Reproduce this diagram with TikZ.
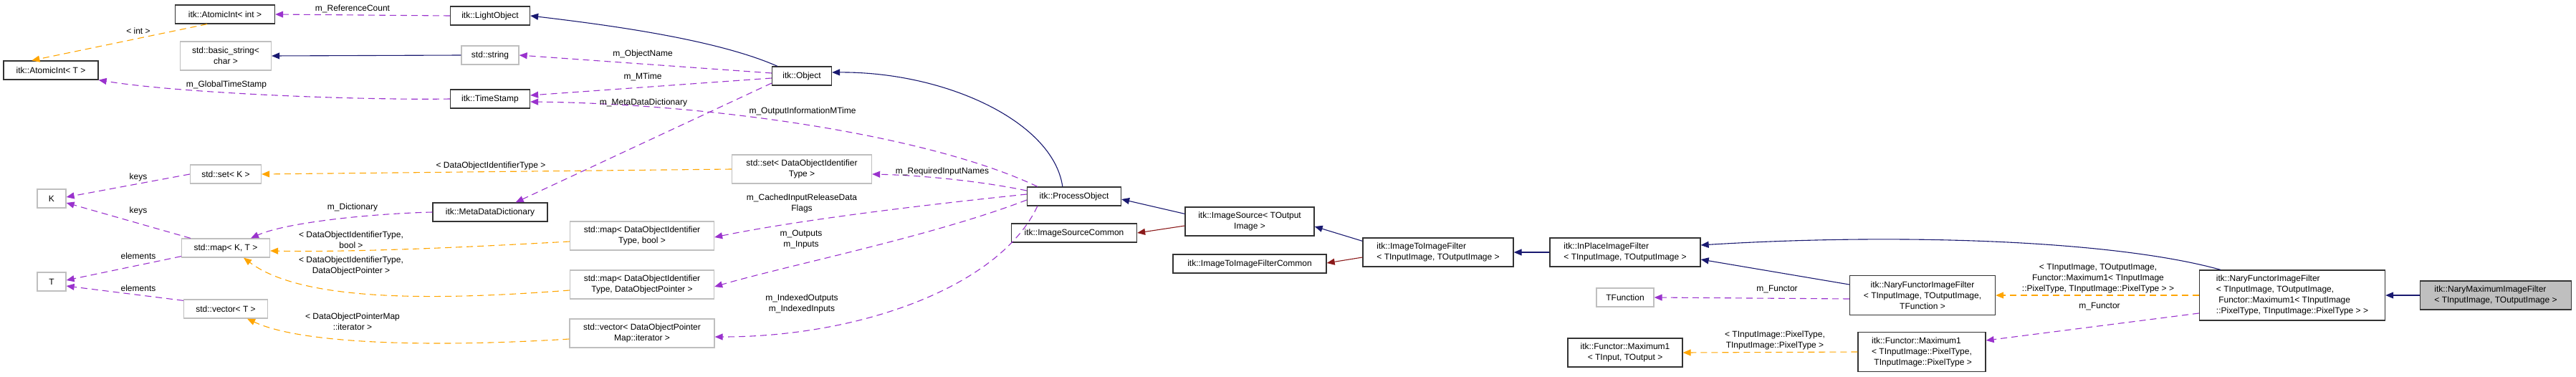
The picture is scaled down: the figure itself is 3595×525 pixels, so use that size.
\documentclass[tikz,border=0pt]{standalone}
\usepackage{fontspec}
\setmainfont{Liberation Sans}
\usetikzlibrary{arrows.meta}
\definecolor{navyc}{HTML}{191970}
\definecolor{purp}{HTML}{9A32CD}
\definecolor{orng}{HTML}{FFA500}
\definecolor{dred}{HTML}{8B1A1A}
\definecolor{grayb}{HTML}{BFBFBF}
\tikzset{
  box/.style={draw=black!80,line width=1.3pt,fill=white,inner sep=2pt,font=\fontsize{12}{15}\selectfont,align=center},
  gbox/.style={box,draw=grayb},
  lab/.style={font=\fontsize{12}{15}\selectfont,align=center,inner sep=0pt},
  tip/.style={-{Triangle[width=9pt,length=11pt]}},
  inh/.style={tip,draw=navyc,line width=1.1pt},
  prot/.style={tip,draw=dred,line width=1.1pt},
  use/.style={tip,draw=purp,dashed,dash pattern=on 9pt off 6pt,line width=1.1pt},
  tpl/.style={tip,draw=orng,dashed,dash pattern=on 9pt off 6pt,line width=1.1pt},
}
\begin{document}
\begin{tikzpicture}[x=1pt,y=1pt]
\useasboundingbox (0,0) rectangle (3595,-525);
% nodes
\node[box,minimum width=139,minimum height=26] (aiint) at (314,-20) {itk::AtomicInt< int >};
\node[box,minimum width=132,minimum height=26] (ait) at (71,-98) {itk::AtomicInt< T >};
\node[gbox,minimum width=127,minimum height=40] (bstr) at (315,-78) {std::basic\_string<\\char >};
\node[gbox,minimum width=40,minimum height=26] (K) at (72,-277) {K};
\node[gbox,minimum width=40,minimum height=26] (T) at (72,-393) {T};
\node[gbox,minimum width=99,minimum height=26] (setk) at (315,-243) {std::set< K >};
\node[gbox,minimum width=123,minimum height=26] (mapkt) at (315,-346) {std::map< K, T >};
\node[gbox,minimum width=117,minimum height=26] (vect) at (315,-431) {std::vector< T >};
\node[box,minimum width=111,minimum height=26] (lo) at (684,-22) {itk::LightObject};
\node[gbox,minimum width=80,minimum height=26] (str) at (684,-77) {std::string};
\node[box,minimum width=111,minimum height=26] (ts) at (684,-138) {itk::TimeStamp};
\node[box,minimum width=160,minimum height=26] (mdd) at (684,-296) {itk::MetaDataDictionary};
\node[box,minimum width=83,minimum height=26] (obj) at (1119,-106) {itk::Object};
\node[gbox,minimum width=195,minimum height=40] (setdoi) at (1119,-236) {std::set< DataObjectIdentifier\\Type >};
\node[gbox,minimum width=201,minimum height=40] (mapb) at (896,-329) {std::map< DataObjectIdentifier\\Type, bool >};
\node[gbox,minimum width=201,minimum height=40] (mapp) at (896,-397) {std::map< DataObjectIdentifier\\Type, DataObjectPointer >};
\node[gbox,minimum width=202,minimum height=40] (veci) at (896,-465) {std::vector< DataObjectPointer\\Map::iterator >};
\node[box,minimum width=131,minimum height=26] (po) at (1499,-274) {itk::ProcessObject};
\node[box,minimum width=175,minimum height=26] (isc) at (1499,-325) {itk::ImageSourceCommon};
\node[box,minimum width=180,minimum height=40] (is) at (1744,-309) {itk::ImageSource< TOutput\\Image >};
\node[box,minimum width=214,minimum height=26] (iifc) at (1744,-368) {itk::ImageToImageFilterCommon};
\node[box,minimum width=210,minimum height=40,align=left] (iif) at (2007,-352) {itk::ImageToImageFilter\\< TInputImage, TOutputImage >};
\node[box,minimum width=210,minimum height=40,align=left] (ip) at (2268,-352) {itk::InPlaceImageFilter\\< TInputImage, TOutputImage >};
\node[gbox,minimum width=80,minimum height=26] (tf) at (2268,-415) {TFunction};
\node[box,minimum width=160,minimum height=40] (m1t) at (2268,-492) {itk::Functor::Maximum1\\< TInput, TOutput >};
\node[box,minimum width=203,minimum height=55] (nft) at (2683,-412) {itk::NaryFunctorImageFilter\\< TInputImage, TOutputImage,\\TFunction >};
\node[box,minimum width=178,minimum height=55,align=left] (m1p) at (2682,-491) {itk::Functor::Maximum1\\< TInputImage::PixelType,\\\ TInputImage::PixelType >};
\node[box,minimum width=259,minimum height=70,align=left] (nfm) at (3199,-412) {itk::NaryFunctorImageFilter\\< TInputImage, TOutputImage,\\\ Functor::Maximum1< TInputImage\\::PixelType, TInputImage::PixelType > >};
\node[box,fill=grayb,minimum width=211,minimum height=40,align=left] (nmax) at (3483,-412) {itk::NaryMaximumImageFilter\\< TInputImage, TOutputImage >};
% edges
\draw[use] (lo.west) -- (aiint.east);
\draw[tpl] ([xshift=-25]aiint.south) -- ([xshift=40]ait.north west);
\draw[inh] (str.west) -- (bstr.east);
\draw[use] (ts.west) .. controls (500,-140) and (250,-130) .. (ait.south east);
\draw[inh] ([xshift=8]obj.north west) .. controls (1000,-55) and (850,-35) .. (lo.east);
\draw[use] ([yshift=4]obj.west) -- (str.east);
\draw[use] ([yshift=-3]obj.west) -- ([yshift=5]ts.east);
\draw[use] ([yshift=-10]obj.west) -- ([xshift=-45]mdd.north east);
\draw[use] ([xshift=15]po.north west) .. controls (1300,-190) and (1000,-145) .. ([yshift=-4]ts.east);
\draw[inh] ([xshift=50]po.north west) .. controls (1470,-170) and (1320,-100) .. ([yshift=5]obj.east);
\draw[use] ([yshift=8]po.west) .. controls (1380,-255) and (1300,-245) .. ([yshift=-7]setdoi.east);
\draw[use] ([yshift=3]po.west) .. controls (1250,-290) and (1100,-310) .. ([yshift=-2]mapb.east);
\draw[use] ([yshift=-5]po.west) .. controls (1300,-330) and (1100,-370) .. ([yshift=-3]mapp.east);
\draw[use] ([xshift=15]po.south west) .. controls (1395,-400) and (1200,-470) .. ([yshift=-5]veci.east);
\draw[tpl] (setdoi.west) -- (setk.east);
\draw[use] (setk.west) -- ([yshift=2]K.east);
\draw[use] ([xshift=13]mapkt.north west) -- ([yshift=-6]K.east);
\draw[use] ([yshift=2]mapkt.south west) -- ([yshift=2]T.east);
\draw[use] ([yshift=-2]vect.north west) -- ([yshift=-6]T.east);
\draw[use] (mdd.west) .. controls (520,-298) and (400,-310) .. ([xshift=35]mapkt.north);
\draw[tpl] ([yshift=-8]mapb.west) .. controls (650,-345) and (500,-352) .. ([yshift=-4]mapkt.east);
\draw[tpl] ([yshift=-8]mapp.west) .. controls (600,-420) and (420,-420) .. ([xshift=25]mapkt.south);
\draw[tpl] ([yshift=-8]veci.west) .. controls (600,-485) and (420,-480) .. ([xshift=30]vect.south);
\draw[inh] ([yshift=-10]is.north west) -- ([yshift=-4]po.east);
\draw[prot] ([yshift=-6]is.west) -- (isc.east);
\draw[inh] ([yshift=-5]iif.north west) -- ([yshift=-7]is.east);
\draw[prot] ([yshift=-7]iif.west) -- ([yshift=1]iifc.east);
\draw[inh] (ip.west) -- (iif.east);
\draw[inh] ([yshift=15]nft.west) -- ([yshift=-10]ip.east);
\draw[use] ([yshift=-5]nft.west) -- (tf.east);
\draw[inh] ([xshift=30]nfm.north west) .. controls (2950,-335) and (2650,-325) .. ([yshift=10]ip.east);
\draw[tpl] (nfm.west) -- (nft.east);
\draw[use] ([yshift=-25]nfm.west) -- ([yshift=16]m1p.east);
\draw[tpl] (m1p.west) -- (m1t.east);
\draw[inh] (nmax.west) -- (nfm.east);
% labels
\node[lab] at (492,-12) {m\_ReferenceCount};
\node[lab] at (193,-43) {< int >};
\node[lab] at (316,-118) {m\_GlobalTimeStamp};
\node[lab] at (685,-231) {< DataObjectIdentifierType >};
\node[lab] at (193,-247) {keys};
\node[lab] at (193,-294) {keys};
\node[lab] at (492,-289) {m\_Dictionary};
\node[lab] at (490,-335) {< DataObjectIdentifierType,\\bool >};
\node[lab] at (193,-357) {elements};
\node[lab] at (490,-371) {< DataObjectIdentifierType,\\DataObjectPointer >};
\node[lab] at (193,-402) {elements};
\node[lab] at (492,-449) {< DataObjectPointerMap\\::iterator >};
\node[lab] at (897,-75) {m\_ObjectName};
\node[lab] at (897,-107) {m\_MTime};
\node[lab] at (898,-143) {m\_MetaDataDictionary};
\node[lab] at (1120,-155) {m\_OutputInformationMTime};
\node[lab] at (1315,-239) {m\_RequiredInputNames};
\node[lab] at (1119,-284) {m\_CachedInputReleaseData\\Flags};
\node[lab] at (1118,-334) {m\_Outputs\\m\_Inputs};
\node[lab] at (1119,-424) {m\_IndexedOutputs\\m\_IndexedInputs};
\node[lab] at (2480,-404) {m\_Functor};
\node[lab] at (2477,-475) {< TInputImage::PixelType,\\TInputImage::PixelType >};
\node[lab] at (2928,-389) {< TInputImage, TOutputImage,\\Functor::Maximum1< TInputImage\\::PixelType, TInputImage::PixelType > >};
\node[lab] at (2930,-428) {m\_Functor};
\end{tikzpicture}
\end{document}
